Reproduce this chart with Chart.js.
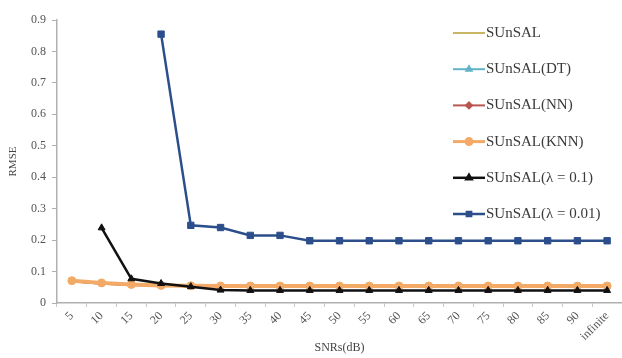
<!DOCTYPE html>
<html>
<head>
<meta charset="utf-8">
<script src="https://cdn.jsdelivr.net/npm/chart.js@4"></script>
<style>
  html, body { margin: 0; padding: 0; background: #fff; }
  #wrap { width: 622px; height: 358px; }
</style>
</head>
<body>
<div id="wrap"><canvas id="chart" width="622" height="358"></canvas></div>
<script>
var snrs = ['5','10','15','20','25','30','35','40','45','50','55','60','65','70','75','80','85','90','infinite']
var yTicks = [0, 0.1, 0.2, 0.3, 0.4, 0.5, 0.6, 0.7, 0.8, 0.9]

var sunsal    = [0.068,0.061,0.057,0.055,0.054,0.053,0.053,0.053,0.053,0.053,0.053,0.053,0.053,0.053,0.053,0.053,0.053,0.053,0.053]
var sunsalDT  = [0.069,0.062,0.058,0.055,0.054,0.053,0.053,0.053,0.053,0.053,0.053,0.053,0.053,0.053,0.053,0.053,0.053,0.053,0.053]
var sunsalNN  = [0.069,0.061,0.057,0.055,0.054,0.053,0.053,0.053,0.053,0.053,0.053,0.053,0.053,0.053,0.053,0.053,0.053,0.053,0.053]
var sunsalKNN = [0.071,0.064,0.059,0.056,0.055,0.054,0.054,0.054,0.054,0.054,0.054,0.054,0.054,0.054,0.054,0.054,0.054,0.054,0.054]
var lambda01  = [null,0.239,0.077,0.062,0.052,0.041,0.040,0.040,0.040,0.040,0.040,0.040,0.040,0.040,0.040,0.040,0.040,0.040,0.040]
var lambda001 = [null,null,null,0.855,0.247,0.240,0.215,0.215,0.198,0.198,0.198,0.198,0.198,0.198,0.198,0.198,0.198,0.198,0.198]

var serif = '"Liberation Serif", "DejaVu Serif", serif'

function series(label, data, color, width, style, radius, order) {
  return {
    label: label,
    data: data,
    borderColor: color,
    backgroundColor: color,
    borderWidth: width,
    pointStyle: style,
    pointRadius: radius,
    pointBorderWidth: 1,
    pointBackgroundColor: color,
    pointBorderColor: color,
    tension: 0,
    order: order
  }
}

var datasets = [
  series('SUnSAL', sunsal, '#c9b664', 2, false, 0, 6),
  series('SUnSAL(DT)', sunsalDT, '#62b3c6', 2, 'triangle', 3, 5),
  series('SUnSAL(NN)', sunsalNN, '#b9554f', 2, 'rectRot', 3, 4),
  series('SUnSAL(KNN)', sunsalKNN, '#f2aa66', 4, 'circle', 4, 3),
  series('SUnSAL(\u03bb = 0.1)', lambda01, '#111111', 2.5, 'triangle', 4, 2),
  series('SUnSAL(\u03bb = 0.01)', lambda001, '#2c4f8c', 2.5, 'rect', 4.5, 1)
]

// legend drawn inside the plot, like the original
var insideLegend = {
  id: 'insideLegend',
  afterDraw: function(chart) {
    var ctx = chart.ctx
    ctx.save()
    chart.data.datasets.forEach(function(ds, i) {
      var y = 33 + i * 36.2
      var x0 = 453, x1 = 485
      ctx.strokeStyle = ds.borderColor
      ctx.lineWidth = Math.min(ds.borderWidth, 3)
      ctx.beginPath()
      ctx.moveTo(x0, y)
      ctx.lineTo(x1, y)
      ctx.stroke()
      if (ds.pointStyle) {
        Chart.helpers.drawPoint(ctx, {pointStyle: ds.pointStyle, radius: 3, borderWidth: 1, rotation: 0}, (x0 + x1) / 2, y)
        ctx.fillStyle = ds.borderColor
        ctx.fill()
      }
      ctx.fillStyle = '#3a3a3a'
      ctx.font = '15px ' + serif
      ctx.textBaseline = 'middle'
      ctx.textAlign = 'left'
      ctx.fillText(ds.label, x1 + 1, y)
    })
    ctx.restore()
  }
}

var config = {
  type: 'line',
  data: { labels: snrs, datasets: datasets },
  options: {
    responsive: false,
    animation: false,
    layout: { autoPadding: false, padding: { top: 20, right: 0, left: 0, bottom: 0 } },
    plugins: {
      legend: { display: false },
      tooltip: { enabled: false }
    },
    scales: {
      x: {
        type: 'category',
        offset: true,
        grid: { display: true, offset: true, drawOnChartArea: false, drawTicks: true, tickLength: 4, color: '#c8c8c8' },
        border: { display: true, color: '#b0b0b0', width: 1.5 },
        ticks: { minRotation: 45, maxRotation: 45, color: '#555', font: { family: serif, size: 12 }, padding: 2 },
        title: { display: true, text: 'SNRs(dB)', color: '#444', font: { family: serif, size: 12 }, padding: { top: 0, bottom: 3 } },
        afterFit: function(scale) {
          scale.height = 55
          scale.paddingLeft = 0
          scale.paddingRight = 0
        }
      },
      y: {
        min: 0,
        max: 0.9,
        afterBuildTicks: function(scale) { scale.ticks = yTicks.map(v => ({value: v})) },
        grid: { display: true, drawOnChartArea: false, drawTicks: true, tickLength: 5, color: '#b0b0b0' },
        border: { display: true, color: '#b0b0b0', width: 1.5 },
        ticks: { color: '#555', font: { family: serif, size: 12 }, padding: 6, callback: v => String(Math.round(v * 10) / 10) },
        title: { display: true, text: 'RMSE', color: '#444', font: { family: serif, size: 11 }, padding: { top: 7, bottom: 0 } },
        afterFit: function(scale) {
          scale.width = 57
          scale.paddingTop = 0
          scale.paddingBottom = 0
        }
      }
    }
  },
  plugins: [insideLegend]
}

new Chart(document.getElementById('chart'), config)
</script>
</body>
</html>
